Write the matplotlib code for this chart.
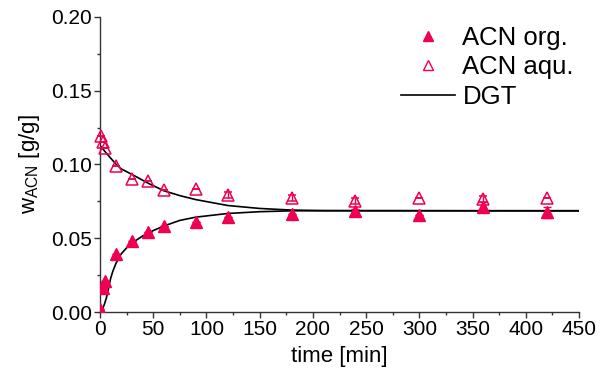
import matplotlib
matplotlib.use("Agg")
import matplotlib.pyplot as plt
from matplotlib.ticker import MultipleLocator
from matplotlib.lines import Line2D

plt.rcParams['font.family'] = ['Liberation Sans', 'DejaVu Sans']
plt.rcParams['mathtext.fontset'] = 'custom'
plt.rcParams['mathtext.rm'] = 'Liberation Sans'

# Measured data
t_org = [0, 2.5, 5, 15, 30, 45, 60, 90, 120, 180, 240, 300, 360, 420]
w_org = [0.002, 0.016, 0.021, 0.039, 0.048, 0.054, 0.058, 0.061, 0.0645, 0.0665, 0.0685, 0.066, 0.0715, 0.0675]
e_org = [0, 0, 0, 0, 0, 0, 0, 0, 0, 0, 0.001, 0, 0.003, 0.004]

t_aqu = [1, 2.5, 5, 15, 30, 45, 60, 90, 120, 180, 240, 300, 360, 420]
w_aqu = [0.119, 0.115, 0.111, 0.099, 0.0905, 0.0885, 0.0827, 0.0834, 0.0793, 0.0775, 0.0755, 0.0770, 0.0765, 0.0775]
e_aqu = [0, 0, 0, 0, 0, 0, 0, 0, 0.002, 0.002, 0.002, 0, 0.002, 0]

# DGT model curves
t_dgt_aqu = [0, 5, 10, 15, 20, 30, 45, 60, 75, 90, 120, 150, 180, 210, 450]
w_dgt_aqu = [0.113, 0.1085, 0.1043, 0.1003, 0.0970, 0.0933, 0.0874, 0.0822, 0.0789, 0.0762, 0.0722, 0.0702, 0.0691, 0.0687, 0.0685]
t_dgt_org = [0, 2, 4, 6, 8, 10, 12, 15, 20, 25, 30, 40, 50, 60, 75, 90, 120, 150, 180, 210, 450]
w_dgt_org = [0.0, 0.0015, 0.005, 0.0095, 0.016, 0.0228, 0.0275, 0.033, 0.0395, 0.0435, 0.0468, 0.0515, 0.0552, 0.0583, 0.0621, 0.0643, 0.0668, 0.0680, 0.0686, 0.0687, 0.0687]

col = '#F0004E'

fig = plt.figure(figsize=(6.07, 3.76), dpi=100)
ax = fig.add_axes([100/607, 64/376, 479/607, 295/376])

ax.plot(t_dgt_aqu, w_dgt_aqu, color='black', lw=1.2, zorder=2)
ax.plot(t_dgt_org, w_dgt_org, color='black', lw=1.2, zorder=2)

ax.errorbar(t_org, w_org, yerr=e_org, fmt='^', color=col, ms=9, mec=col, mfc=col,
            elinewidth=1, capsize=3, zorder=3)
ax.errorbar(t_aqu, w_aqu, yerr=e_aqu, fmt='^', color=col, ms=9, mec=col, mfc='none',
            mew=1.1, elinewidth=1, capsize=3, zorder=3, clip_on=False)

handles = [Line2D([], [], ls='none', marker='^', color=col, ms=7),
           Line2D([], [], ls='none', marker='^', color=col, mfc='none', ms=7),
           Line2D([], [], color='black', lw=1.2)]
ax.legend(handles, ['ACN org.', 'ACN aqu.', 'DGT'], loc='upper left',
          bbox_to_anchor=(0.585, 1.04), frameon=False, fontsize=18.5,
          handlelength=2.1, handletextpad=0.3, labelspacing=0.22, borderpad=0.3)

ax.set_xlim(0, 450)
ax.set_ylim(0, 0.20)
ax.xaxis.set_major_locator(MultipleLocator(50))
ax.xaxis.set_minor_locator(MultipleLocator(25))
ax.yaxis.set_major_locator(MultipleLocator(0.05))
ax.yaxis.set_minor_locator(MultipleLocator(0.025))
ax.yaxis.set_major_formatter(matplotlib.ticker.FormatStrFormatter('%.2f'))

for s in ['top', 'right']:
    ax.spines[s].set_visible(False)
for s in ['left', 'bottom']:
    ax.spines[s].set_color('#333333')
    ax.spines[s].set_linewidth(1.0)
ax.tick_params(which='major', direction='out', length=4, width=1, color='#333333', labelsize=15, pad=2)
ax.tick_params(which='minor', direction='out', length=2, width=1, color='#333333')

ax.set_xlabel('time [min]', fontsize=16, labelpad=5)
ax.set_ylabel(r'w$_{\mathregular{ACN}}$ [g/g]', fontsize=16, labelpad=6)

fig.savefig('out.png', dpi=100)
